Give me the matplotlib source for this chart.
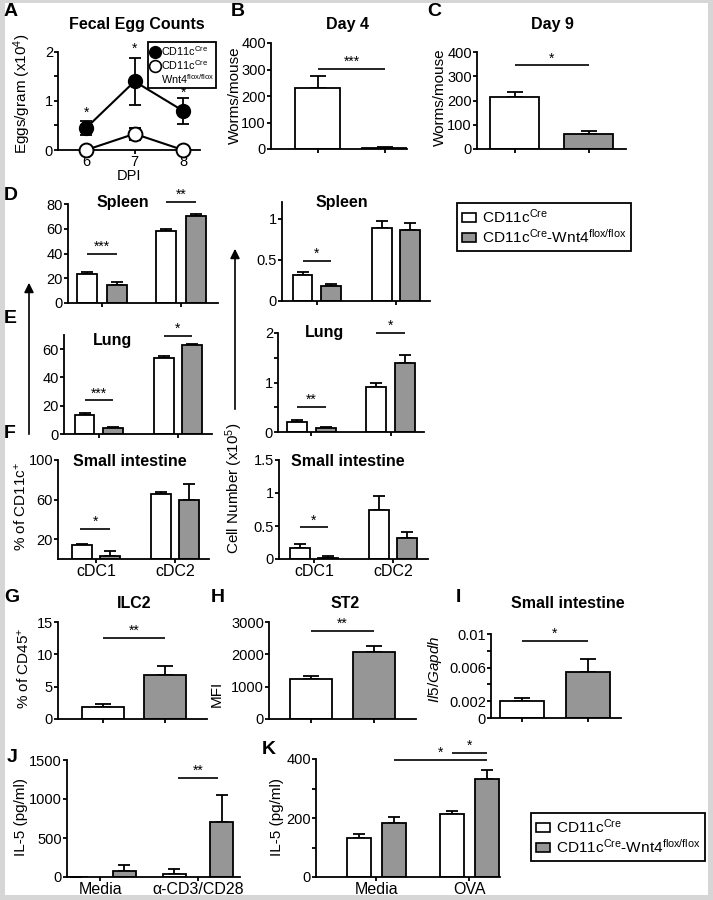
import matplotlib
matplotlib.use('Agg')
import matplotlib.pyplot as plt
from matplotlib.patches import Patch, Rectangle, FancyArrowPatch
from matplotlib.lines import Line2D
import numpy as np

# ---------------- data ----------------
A_dpi = [6, 7, 8]
A_ctrl = [0.45, 1.40, 0.80]
A_ctrl_err = [0.15, 0.48, 0.26]
A_ko = [0.0, 0.33, 0.0]
A_ko_err = [0.0, 0.12, 0.0]

B_vals = [232, 3]
B_err = [42, 3]
C_vals = [215, 60]
C_err = [21, 15]

groups = ['cDC1', 'cDC2']
D_pct_ctrl = [23.4, 58.5]; D_pct_ctrl_err = [1.9, 1.3]
D_pct_ko = [14.8, 70.0]; D_pct_ko_err = [1.9, 2.0]
E_pct_ctrl = [13.6, 54.0]; E_pct_ctrl_err = [1.2, 1.5]
E_pct_ko = [4.0, 62.6]; E_pct_ko_err = [0.9, 1.2]
F_pct_ctrl = [13.9, 66.0]; F_pct_ctrl_err = [1.4, 2.0]
F_pct_ko = [3.0, 60.0]; F_pct_ko_err = [5.5, 16.0]

D_num_ctrl = [0.31, 0.885]; D_num_ctrl_err = [0.045, 0.08]
D_num_ko = [0.18, 0.865]; D_num_ko_err = [0.03, 0.075]
E_num_ctrl = [0.21, 0.90]; E_num_ctrl_err = [0.025, 0.10]
E_num_ko = [0.09, 1.39]; E_num_ko_err = [0.02, 0.17]
F_num_ctrl = [0.16, 0.745]; F_num_ctrl_err = [0.06, 0.215]
F_num_ko = [0.015, 0.315]; F_num_ko_err = [0.025, 0.09]

G_vals = [1.85, 6.77]; G_err = [0.5, 1.5]
H_vals = [1223, 2076]; H_err = [103, 195]
I_vals = [0.00202, 0.00544]; I_err = [0.00036, 0.00154]

J_groups = ['Media', '\u03b1-CD3/CD28']
J_ctrl = [0, 43]; J_ctrl_err = [0, 60]
J_ko = [77, 705]; J_ko_err = [81, 350]
K_groups = ['Media', 'OVA']
K_ctrl = [133, 212]; K_ctrl_err = [14, 13]
K_ko = [183, 331]; K_ko_err = [19, 31]

LEG1 = 'CD11c$^{\\mathrm{Cre}}$'
LEG2 = 'CD11c$^{\\mathrm{Cre}}$-Wnt4$^{\\mathrm{flox/flox}}$'

# ---------------- style ----------------
plt.rcParams['font.family'] = ['Liberation Sans', 'DejaVu Sans']
plt.rcParams['mathtext.fontset'] = 'custom'
plt.rcParams['mathtext.rm'] = 'Liberation Sans'
plt.rcParams['mathtext.it'] = 'Liberation Sans:italic'
plt.rcParams['mathtext.bf'] = 'Liberation Sans:bold'

W, H = 713, 900
WHITE = 'white'
GRAY = '#969696'
LW = 1.3
TICK_FS = 10.5
LAB_FS = 11
TITLE_FS = 11.5

fig = plt.figure(figsize=(W / 100, H / 100), dpi=100)
fig.patch.set_facecolor('#d6d6d6')
fig.add_artist(Rectangle((5 / W, 1 - 895 / H), 703 / W, 892 / H,
                         transform=fig.transFigure, facecolor='white',
                         edgecolor='none', zorder=-10))


def ax_px(l, t, r, b):
    ax = fig.add_axes([l / W, 1 - b / H, (r - l) / W, (b - t) / H])
    ax.patch.set_alpha(0)
    for s in ['top', 'right']:
        ax.spines[s].set_visible(False)
    for s in ['left', 'bottom']:
        ax.spines[s].set_linewidth(LW)
    ax.tick_params(direction='out', length=2.8, width=LW, labelsize=TICK_FS, pad=0.8)
    return ax


def ftext(x, y, s, **kw):
    fig.text(x / W, 1 - y / H, s, **kw)


def sig(ax, x1, x2, y, label, fs=10):
    ax.plot([x1, x2], [y, y], color='k', lw=1.2, clip_on=False, solid_capstyle='butt')
    ax.text((x1 + x2) / 2, y, label, ha='center', va='bottom', fontsize=fs, clip_on=False)


def two_bars(ax, vals, errs, width, cap=5.5):
    x = np.arange(len(vals))
    ax.bar(x, vals, width, color=[WHITE, GRAY], edgecolor='k', linewidth=LW, zorder=2)
    ax.errorbar(x, vals, yerr=[np.zeros(len(vals)), errs], fmt='none', ecolor='k',
                elinewidth=LW, capsize=cap, capthick=LW, zorder=1)
    ax.set_xticks(x)
    ax.set_xticklabels([])


def grouped(ax, ctrl, ctrl_err, ko, ko_err, off, width, labels=None, cap=4):
    x = np.arange(len(ctrl))
    for xs, v, e, c in [(x - off, ctrl, ctrl_err, WHITE), (x + off, ko, ko_err, GRAY)]:
        ax.bar(xs, v, width, color=c, edgecolor='k', linewidth=LW, zorder=2)
        ax.errorbar(xs, v, yerr=[np.zeros(len(v)), e], fmt='none', ecolor='k',
                    elinewidth=LW, capsize=cap, capthick=LW, zorder=1)
    ax.set_xticks(x)
    if labels is None:
        ax.set_xticklabels([])
    else:
        ax.set_xticklabels(labels, fontsize=11.5)


def bar_legend(top):
    handles = [Patch(facecolor=WHITE, edgecolor='k', linewidth=1.2),
               Patch(facecolor=GRAY, edgecolor='k', linewidth=1.2)]
    leg = fig.legend(handles, [LEG1, LEG2], loc='upper left',
                     bbox_to_anchor=(457 / W if top < 500 else 531 / W, 1 - top / H),
                     fontsize=11.1, handlelength=0.9, handleheight=0.55,
                     handletextpad=0.45, borderpad=0.3, labelspacing=0.12,
                     frameon=True, fancybox=False, framealpha=1, edgecolor='k',
                     borderaxespad=0)
    leg.get_frame().set_linewidth(1.3)
    return leg


# ---------------- A ----------------
axA = ax_px(58, 52, 200, 150)
axA.errorbar(A_dpi, A_ctrl, yerr=A_ctrl_err, color='k', lw=1.5, marker='o', ms=10,
             mfc='k', mec='k', capsize=4, elinewidth=1.3, capthick=1.3, clip_on=False, zorder=3)
axA.errorbar(A_dpi, A_ko, yerr=A_ko_err, color='k', lw=1.5, marker='o', ms=10,
             mfc='white', mec='k', mew=1.4, capsize=4, elinewidth=1.3, capthick=1.3,
             clip_on=False, zorder=3)
axA.set_xlim(5.42, 8.35)
axA.set_ylim(0, 2)
axA.set_xticks(A_dpi)
axA.set_yticks([0, 0.5, 1, 1.5, 2])
axA.set_yticklabels(['0', '', '1', '', '2'])
for xd, yd in zip(A_dpi, [0.62, 1.92, 1.03]):
    axA.text(xd, yd, '*', ha='center', va='bottom', fontsize=10)
axA.set_xlabel('DPI', fontsize=10.5, labelpad=0)
ftext(22, 94, 'Eggs/gram (x10$^4$)', rotation=90, ha='center', va='center', fontsize=LAB_FS)
ftext(137, 25, 'Fecal Egg Counts', ha='center', va='center', fontsize=TITLE_FS, fontweight='bold')
hA = [Line2D([], [], marker='o', ls='none', ms=8.5, mfc='k', mec='k'),
      Line2D([], [], marker='o', ls='none', ms=8.5, mfc='white', mec='k', mew=1.2),
      Line2D([], [], ls='none')]
legA = axA.legend(hA, [LEG1, LEG1, 'Wnt4$^{\\mathrm{flox/flox}}$'], loc='upper left',
                  bbox_to_anchor=(148 / W, 1 - 42 / H), bbox_transform=fig.transFigure,
                  fontsize=7.8, handlelength=0.9, handletextpad=0.1, borderpad=0.2,
                  labelspacing=0.0, frameon=True, fancybox=False, framealpha=1,
                  edgecolor='k', borderaxespad=0)
legA.get_frame().set_linewidth(1.3)

# ---------------- B ----------------
axB = ax_px(271, 43, 407, 149)
two_bars(axB, B_vals, B_err, 0.67)
axB.set_xlim(-0.7, 1.33)
axB.set_ylim(0, 400)
axB.set_yticks([0, 100, 200, 300, 400])
sig(axB, 0, 1, 303, '***')
ftext(235, 95, 'Worms/mouse', rotation=90, ha='center', va='center', fontsize=LAB_FS)
ftext(347, 25, 'Day 4', ha='center', va='center', fontsize=TITLE_FS, fontweight='bold')

# ---------------- C ----------------
axC = ax_px(477, 52, 626, 149)
two_bars(axC, C_vals, C_err, 0.66)
axC.set_xlim(-0.51, 1.5)
axC.set_ylim(0, 400)
axC.set_yticks([0, 100, 200, 300, 400])
sig(axC, 0, 1, 345, '*')
ftext(440, 97, 'Worms/mouse', rotation=90, ha='center', va='center', fontsize=LAB_FS)
ftext(552, 25, 'Day 9', ha='center', va='center', fontsize=TITLE_FS, fontweight='bold')

# ---------------- D/E/F percentages ----------------
axD = ax_px(68, 204, 218, 303)
grouped(axD, D_pct_ctrl, D_pct_ctrl_err, D_pct_ko, D_pct_ko_err, 0.19, 0.25)
axD.set_xlim(-0.43, 1.47); axD.set_ylim(0, 80)
axD.set_yticks([0, 20, 40, 60, 80])
sig(axD, -0.19, 0.19, 39.6, '***'); sig(axD, 0.81, 1.19, 81.6, '**')
ftext(123, 203, 'Spleen', ha='center', va='center', fontsize=TITLE_FS, fontweight='bold')

axE = ax_px(64, 335, 212, 434)
grouped(axE, E_pct_ctrl, E_pct_ctrl_err, E_pct_ko, E_pct_ko_err, 0.18, 0.25)
axE.set_xlim(-0.44, 1.43); axE.set_ylim(0, 70)
axE.set_yticks([0, 20, 40, 60])
sig(axE, -0.18, 0.18, 23.8, '***'); sig(axE, 0.82, 1.18, 69.6, '*')
ftext(112, 340, 'Lung', ha='center', va='center', fontsize=TITLE_FS, fontweight='bold')

axF = ax_px(58, 460, 209, 559)
grouped(axF, F_pct_ctrl, F_pct_ctrl_err, F_pct_ko, F_pct_ko_err, 0.18, 0.25, labels=groups)
axF.set_xlim(-0.48, 1.43); axF.set_ylim(0, 100)
axF.set_yticks([20, 60, 100])
sig(axF, -0.2, 0.18, 30.5, '*')
ftext(130, 462, 'Small intestine', ha='center', va='center', fontsize=TITLE_FS, fontweight='bold')
ftext(21, 506, '% of CD11c$^{+}$', rotation=90, ha='center', va='center', fontsize=LAB_FS)

# ---------------- D/E/F cell numbers ----------------
axDn = ax_px(282, 202, 430, 301)
grouped(axDn, D_num_ctrl, D_num_ctrl_err, D_num_ko, D_num_ko_err, 0.18, 0.25)
axDn.set_xlim(-0.44, 1.43); axDn.set_ylim(0, 1.2)
axDn.set_yticks([0, 0.5, 1]); axDn.set_yticklabels(['0', '0.5', '1'])
sig(axDn, -0.18, 0.18, 0.49, '*')
ftext(342, 202, 'Spleen', ha='center', va='center', fontsize=TITLE_FS, fontweight='bold')

axEn = ax_px(278, 333, 424, 432)
grouped(axEn, E_num_ctrl, E_num_ctrl_err, E_num_ko, E_num_ko_err, 0.18, 0.25)
axEn.set_xlim(-0.42, 1.42); axEn.set_ylim(0, 2)
axEn.set_yticks([0, 0.5, 1, 1.5, 2]); axEn.set_yticklabels(['0', '', '1', '', '2'])
sig(axEn, -0.18, 0.18, 0.5, '**'); sig(axEn, 0.82, 1.18, 2.0, '*')
ftext(325, 333, 'Lung', ha='center', va='center', fontsize=TITLE_FS, fontweight='bold')

axFn = ax_px(279, 460, 428, 559)
grouped(axFn, F_num_ctrl, F_num_ctrl_err, F_num_ko, F_num_ko_err, 0.18, 0.25, labels=groups)
axFn.set_xlim(-0.44, 1.44); axFn.set_ylim(0, 1.5)
axFn.set_yticks([0, 0.5, 1, 1.5]); axFn.set_yticklabels(['0', '0.5', '1', '1.5'])
sig(axFn, -0.18, 0.18, 0.48, '*')
ftext(348, 461, 'Small intestine', ha='center', va='center', fontsize=TITLE_FS, fontweight='bold')
ftext(234, 488, 'Cell Number (x10$^5$)', rotation=90, ha='center', va='center', fontsize=LAB_FS)

# arrows
for x, y0, y1 in [(29, 437, 280), (235, 412, 246)]:
    fig.add_artist(FancyArrowPatch((x / W, 1 - y0 / H), (x / W, 1 - y1 / H),
                                   transform=fig.transFigure, arrowstyle='-|>',
                                   mutation_scale=14, lw=1.2, color='k'))

bar_legend(203)

# ---------------- G ----------------
axG = ax_px(58, 622, 207, 719)
two_bars(axG, G_vals, G_err, 0.68)
axG.set_xlim(-0.73, 1.68); axG.set_ylim(0, 15)
axG.set_yticks([0, 5, 10, 15])
sig(axG, 0, 1, 12.5, '**')
ftext(134, 603, 'ILC2', ha='center', va='center', fontsize=TITLE_FS, fontweight='bold')
ftext(24, 668, '% of CD45$^{+}$', rotation=90, ha='center', va='center', fontsize=LAB_FS)

# ---------------- H ----------------
axH = ax_px(269, 622, 416, 719)
two_bars(axH, H_vals, H_err, 0.68)
axH.set_xlim(-0.67, 1.67); axH.set_ylim(0, 3000)
axH.set_yticks([0, 1000, 2000, 3000])
sig(axH, 0, 1, 2723, '**')
ftext(345, 603, 'ST2', ha='center', va='center', fontsize=TITLE_FS, fontweight='bold')
ftext(217, 694, 'MFI', rotation=90, ha='center', va='center', fontsize=LAB_FS)

# ---------------- I ----------------
axI = ax_px(491, 634, 621, 718)
two_bars(axI, I_vals, I_err, 0.66)
axI.set_xlim(-0.47, 1.5); axI.set_ylim(0, 0.01)
axI.set_yticks([0, 0.002, 0.004, 0.006, 0.008, 0.01])
axI.set_yticklabels(['0', '0.002', '', '0.006', '', '0.01'])
sig(axI, 0, 1, 0.00917, '*')
ftext(568, 603, 'Small intestine', ha='center', va='center', fontsize=TITLE_FS, fontweight='bold')
ftext(435, 669, '$\\it{Il5/Gapdh}$', rotation=90, ha='center', va='center', fontsize=LAB_FS)

# ---------------- J ----------------
axJ = ax_px(67, 760, 240, 877)
grouped(axJ, J_ctrl, J_ctrl_err, J_ko, J_ko_err, 0.245, 0.235, labels=J_groups)
axJ.set_xlim(-0.34, 1.43); axJ.set_ylim(0, 1500)
axJ.set_yticks([0, 500, 1000, 1500])
sig(axJ, 0.8, 1.2, 1269, '**')
ftext(21, 817, 'IL-5 (pg/ml)', rotation=90, ha='center', va='center', fontsize=LAB_FS)

# ---------------- K ----------------
axK = ax_px(316, 759, 500, 877)
grouped(axK, K_ctrl, K_ctrl_err, K_ko, K_ko_err, 0.19, 0.255, labels=K_groups)
axK.set_xlim(-0.65, 1.33); axK.set_ylim(0, 400)
axK.set_yticks([0, 100, 200, 300, 400]); axK.set_yticklabels(['0', '', '200', '', '400'])
sig(axK, 0.19, 1.19, 397, '*')
sig(axK, 0.81, 1.19, 420, '*')
ftext(277, 817, 'IL-5 (pg/ml)', rotation=90, ha='center', va='center', fontsize=LAB_FS)

bar_legend(813)

# ---------------- panel letters ----------------
for s, x, y in [('A', 4, 3), ('B', 231, 3), ('C', 427, 3), ('D', 4, 187), ('E', 4, 310),
                ('F', 4, 425), ('G', 4, 589), ('H', 211, 589), ('I', 456, 589),
                ('J', 7, 749), ('K', 262, 741)]:
    ftext(x, y, s, ha='left', va='top', fontsize=14, fontweight='bold')

fig.savefig('out.png', dpi=100, facecolor=fig.get_facecolor())
